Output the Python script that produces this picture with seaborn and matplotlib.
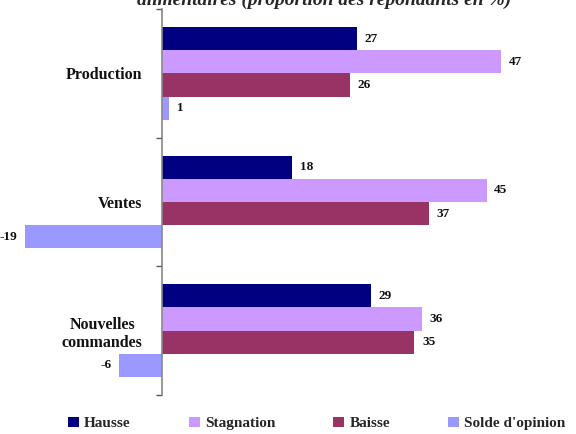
import pandas as pd
import seaborn as sns
import matplotlib.pyplot as plt

# indicators (top to bottom) and opinion series
indicateurs = ["Production", "Ventes", "Nouvelles\ncommandes"]
series = ["Hausse", "Stagnation", "Baisse", "Solde d'opinion"]
hausse = [27, 18, 29]
stagnation = [47, 45, 36]
baisse = [26, 37, 35]
solde = [1, -19, -6]
couleurs = ["#000080", "#CC99FF", "#993366", "#9999FF"]
titre = "alimentaires (proportion des répondants en %)"

rows = []
for s, vals in zip(series, [hausse, stagnation, baisse, solde]):
    for ind, v in zip(indicateurs, vals):
        rows.append({"indicateur": ind, "serie": s, "valeur": v})
df = pd.DataFrame(rows)

sns.set_theme(style="white")
plt.rcParams["font.family"] = ["Liberation Serif", "DejaVu Serif"]
plt.rcParams["font.weight"] = "bold"

fig = plt.figure(figsize=(5.76, 4.34), dpi=100)
ax = fig.add_axes([0.006, 0.09, 0.964, 0.889])

sns.barplot(data=df, y="indicateur", x="valeur", hue="serie", orient="h",
            order=indicateurs, hue_order=series, palette=couleurs,
            saturation=1, width=0.72, linewidth=0, ax=ax, legend=True)

for cont in ax.containers:
    ax.bar_label(cont, fmt="%d", padding=5.5, fontsize=9.5, fontweight="bold",
                 color="#111111")

ax.set_xlim(-22, 55)
ax.set_ylim(2.5, -0.5)
ax.set_xlabel("")
ax.set_ylabel("")
ax.set_xticks([])

for side in ["top", "right", "bottom"]:
    ax.spines[side].set_visible(False)
ax.spines["left"].set_position(("data", 0))
ax.spines["left"].set_color("#888888")
ax.spines["left"].set_linewidth(1.2)

ax.set_yticks([-0.5, 0.5, 1.5, 2.5], minor=True)
ax.tick_params(axis="y", which="major", length=0, pad=14, labelsize=11.5,
               labelcolor="#111111")
ax.tick_params(axis="y", which="minor", length=4, width=1, color="#555555",
               direction="out", left=True)
for lbl in ax.get_yticklabels():
    lbl.set_fontweight("bold")
    lbl.set_multialignment("center")

handles, labels = ax.get_legend_handles_labels()
ax.get_legend().remove()
fig.legend(handles, labels, loc="center", bbox_to_anchor=(0.55, 0.024),
           ncol=4, frameon=False, handlelength=0.7,
           handleheight=0.7, handletextpad=0.35, columnspacing=3.8,
           prop={"weight": "bold", "size": 11})

fig.text(0.562, 0.988, titre, ha="center", va="baseline", fontsize=14,
         fontweight="bold", fontstyle="italic")

fig.savefig("out.png", dpi=100)
